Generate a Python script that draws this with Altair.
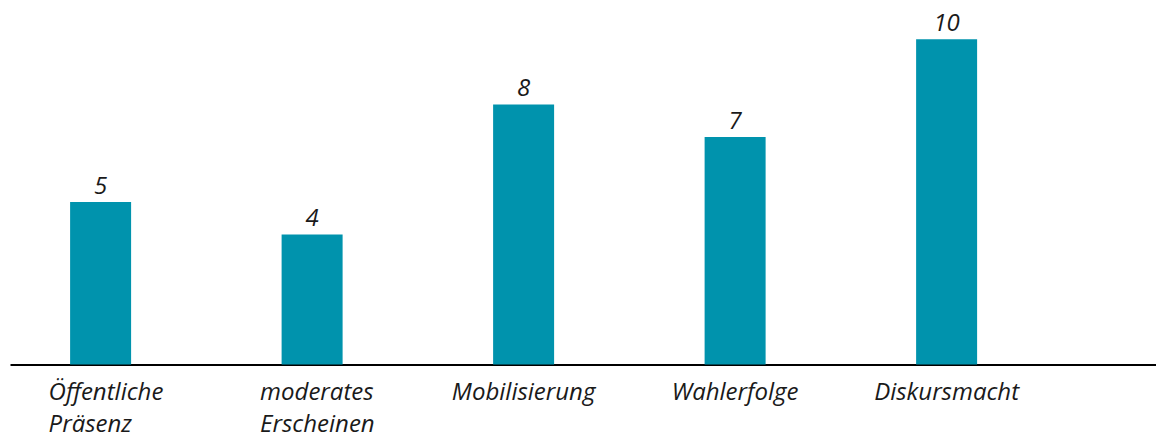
import altair as alt
import pandas as pd

categories = ["Öffentliche\nPräsenz", "moderates\nErscheinen", "Mobilisierung", "Wahlerfolge", "Diskursmacht"]
values = [5, 4, 8, 7, 10]

df = pd.DataFrame({"cat": categories, "val": values})

FONT = "Open Sans"
W, H = 1146, 350.5

x = alt.X(
    "cat:N",
    sort=categories,
    title=None,
    scale=alt.Scale(paddingInner=0.7116, paddingOuter=0.565, align=0.2515),
    axis=alt.Axis(
        labelExpr="split(datum.value, '\\n')",
        labelAngle=0,
        labelFont=FONT,
        labelFontStyle="italic",
        labelFontSize=24,
        labelColor="#1a1a1a",
        labelLineHeight=32,
        labelPadding=16,
        labelAlign={"condition": {"test": "indexof(datum.value, '\\n') >= 0", "value": "left"}, "value": "center"},
        labelOffset={"condition": {"test": "indexof(datum.value, '\\n') >= 0", "value": -52}, "value": 0},
        ticks=False,
        domainColor="#000000",
        domainWidth=2,
        grid=False,
    ),
)

y = alt.Y("val:Q", title=None, scale=alt.Scale(domain=[0, 10.78], nice=False), axis=None)

bars = alt.Chart(df).mark_bar(color="#0093AD").encode(x=x, y=y)
text = alt.Chart(df).mark_text(
    dy=-8, baseline="alphabetic", font=FONT, fontStyle="italic", fontSize=24, color="#1a1a1a"
).encode(x=x, y=y, text="val:Q")

chart = (bars + text).properties(
    width=W, height=H, background="white",
    padding={"left": 2, "top": 4, "right": 0, "bottom": 0}
).configure_view(stroke=None)

chart.save("out.html", embed_options={"renderer": "svg", "actions": False})
